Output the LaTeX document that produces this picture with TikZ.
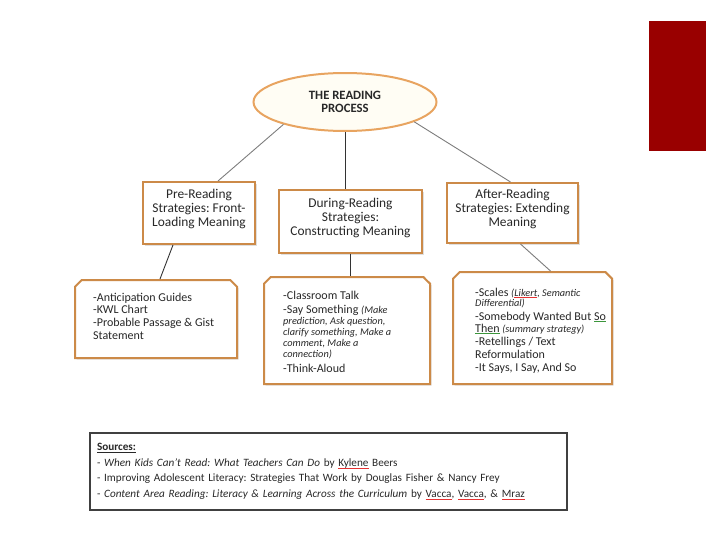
\documentclass[tikz,border=0pt]{standalone}
\usepackage{fontspec}
\setmainfont{Carlito}
\usepackage{tikz}
\usetikzlibrary{positioning,shapes.geometric,shapes.misc,shadows,calc}
\usepackage{xcolor}

\definecolor{boxedge}{RGB}{204,138,72}
\definecolor{ovaledge}{RGB}{232,164,96}
\definecolor{ovalfill}{RGB}{255,253,244}
\definecolor{slidered}{RGB}{153,0,0}
\definecolor{linkgray}{RGB}{125,125,125}
\definecolor{inkgray}{RGB}{40,40,40}
\definecolor{spellred}{RGB}{230,50,50}
\definecolor{grammargreen}{RGB}{60,150,60}

\newsavebox{\markbox}
\newcommand{\markunder}[2]{\leavevmode\sbox{\markbox}{#2}\rlap{\textcolor{#1}{\rule[-2pt]{\wd\markbox}{0.8pt}}}\usebox{\markbox}}
\newcommand{\spellmark}[1]{\markunder{spellred}{#1}}
\newcommand{\grammark}[1]{\markunder{grammargreen}{#1}}
\newcommand{\aside}[1]{{\fontsize{10.3}{11}\selectfont\itshape #1}}

\begin{document}
\frenchspacing
\begin{tikzpicture}[
  x=1pt, y=-1pt,
  text=inkgray,
  oval/.style={ellipse, draw=ovaledge, line width=2pt, fill=ovalfill, minimum width=183, minimum height=58, align=center, font=\fontsize{12.7}{13}\selectfont\bfseries},
  headbox/.style={rectangle, draw=boxedge, line width=2pt, fill=white, align=center, text depth=10pt, font=\fontsize{13.4}{14}\selectfont, drop shadow={opacity=0.25, shadow xshift=1.5pt, shadow yshift=-1.5pt}},
  lowbox/.style={chamfered rectangle, chamfered rectangle corners={north west,north east}, chamfered rectangle xsep=17pt, chamfered rectangle ysep=16pt, draw=boxedge, line width=2pt, fill=white, drop shadow={opacity=0.25, shadow xshift=1.5pt, shadow yshift=-1.5pt}},
  listtext/.style={align=left, inner sep=0pt, font=\fontsize{12}{12.7}\selectfont},
  srcbox/.style={rectangle, draw=black!75, line width=2.2pt, align=left, text width=463, inner sep=7, font=\fontsize{11.2}{15.5}\selectfont},
  link/.style={linkgray, line width=0.9pt},
  stem/.style={black!80, line width=0.9pt},
]
\useasboundingbox (0,0) rectangle (728,546);

% Slide tab
\node[fill=slidered, minimum width=57, minimum height=130, inner sep=0pt] (tab) at (677.5,86) {};

% Top of the tree
\node[oval] (top) at (345,102) {THE READING\\PROCESS};

% Three stages
\node[headbox, minimum width=112, minimum height=62] (pre) at (199,213) {Pre-Reading\\Strategies: Front-\\Loading Meaning};
\node[headbox, minimum width=143, minimum height=63] (during) at (350.5,221.5) {During-Reading\\Strategies:\\Constructing Meaning};
\node[headbox, minimum width=131, minimum height=60] (after) at (512.5,213) {After-Reading\\Strategies: Extending\\Meaning};

% Strategy lists
\node[lowbox, minimum width=162, minimum height=78] (prebox) at (156,319) {};
\node[listtext, anchor=west] (prelist) at (93,316) {-Anticipation Guides\\-KWL Chart\\-Probable Passage \& Gist\\Statement};

\node[lowbox, minimum width=166, minimum height=107] (duringbox) at (347,330.5) {};
\node[listtext, anchor=west] (duringlist) at (283,331.5) {-Classroom Talk\\[1.3pt]
  -Say Something \aside{(Make}\\[-1.7pt]
  \aside{prediction, Ask question,}\\[-1.7pt]
  \aside{clarify something, Make a}\\[-1.7pt]
  \aside{comment, Make a}\\[-1.7pt]
  \aside{connection)}\\[2.3pt]
  -Think-Aloud};

\node[lowbox, minimum width=159, minimum height=112] (afterbox) at (532.5,328) {};
\node[listtext, anchor=west] (afterlist) at (475,330.5) {-Scales \aside{(\spellmark{Likert}, Semantic}\\[-2.7pt]
  \aside{Differential)}\\[1.3pt]
  -Somebody Wanted But \grammark{So}\\[-0.7pt]
  \grammark{Then} \aside{(summary strategy)}\\[0.3pt]
  -Retellings / Text\\[0.3pt]
  Reformulation\\[0.3pt]
  -It Says, I Say, And So};

% Sources
\node[srcbox, minimum height=77] (sources) at (328.5,471.5) {%
  \textbf{\underline{Sources:}}\\
  - \textit{When Kids Can't Read: What Teachers Can Do} by \spellmark{Kylene} Beers\\
  - Improving Adolescent Literacy: Strategies That Work by Douglas Fisher \& Nancy Frey\\
  - \textit{Content Area Reading: Literacy \& Learning Across the Curriculum} by \spellmark{Vacca}, \spellmark{Vacca}, \& \spellmark{Mraz}};

% Connectors
\draw[link] (top.200) -- ([xshift=19pt]pre.north);
\draw[stem] (top.south) -- (top.south |- during.north);
\draw[link] (top.-16) -- ([xshift=-2pt]after.north);
\draw[stem] ([xshift=-26pt]pre.south) -- ([xshift=4pt]prebox.north);
\draw[stem] (during.south) -- (during.south |- duringbox.north);
\draw[link] ([xshift=8pt]after.south) -- ([xshift=18pt]afterbox.north);

\end{tikzpicture}
\end{document}
